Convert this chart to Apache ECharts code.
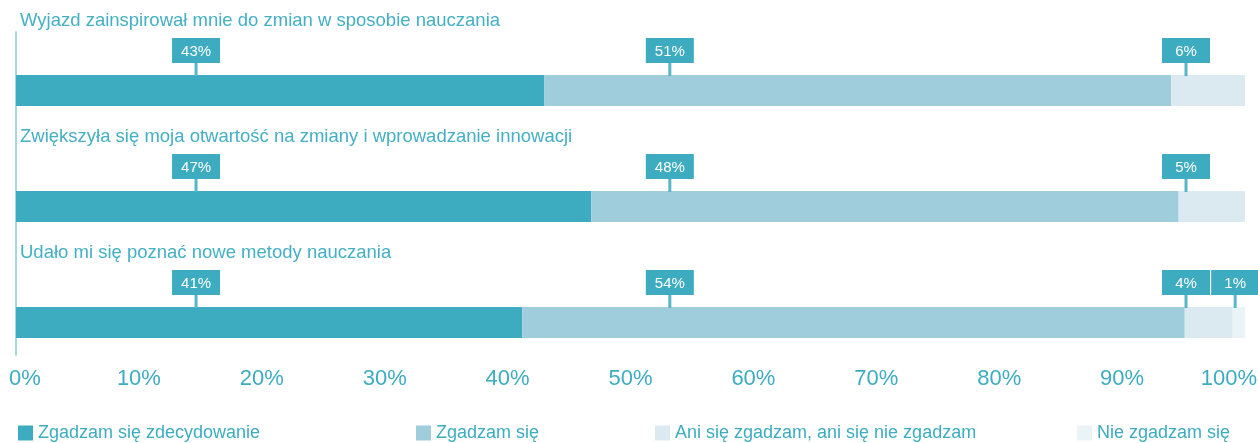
<!DOCTYPE html>
<html>
<head>
<meta charset="utf-8">
<script src="https://cdn.jsdelivr.net/npm/echarts@6/dist/echarts.min.js"></script>
<style>
    html, body { margin: 0; padding: 0; background: #fff; }
    #chart { width: 1258px; height: 443px; }
</style>
</head>
<body>
<div id="chart"></div>
<script>
/*
|--------------------------------------------------------------------------
| Data
|--------------------------------------------------------------------------
*/

const statements = [
    'Wyjazd zainspirował mnie do zmian w sposobie nauczania',
    'Zwiększyła się moja otwartość na zmiany i wprowadzanie innowacji',
    'Udało mi się poznać nowe metody nauczania',
];

const answers = [
    'Zgadzam się zdecydowanie',
    'Zgadzam się',
    'Ani się zgadzam, ani się nie zgadzam',
    'Nie zgadzam się',
];

// Shares per statement (%)
const stronglyAgree = [43, 46.8, 41.2];
const agree = [51, 47.8, 53.9];
const neutral = [6, 5.4, 3.9];
const disagree = [0, 0, 1.0];

/*
|--------------------------------------------------------------------------
| Look
|--------------------------------------------------------------------------
*/

const teal = '#3dacc1';
const colors = ['#3dacc1', '#a0cddc', '#dbeaf0', '#eaf4f7'];
const barHeight = 31;
const boxWidth = 48;
const boxHeight = 25;
const tickFont = '"Liberation Sans", Arial, sans-serif';

// Where each answer's callout sits along the axis (%)
const calloutAt = [14.65, 53.2, 95.2, 99.2];

// Legend item left edges
const legendLeft = [18, 416, 655, 1077];

/*
|--------------------------------------------------------------------------
| Helpers
|--------------------------------------------------------------------------
*/

const shares = [stronglyAgree, agree, neutral, disagree];

function segmentData(answerIndex) {
    return statements.map((_, row) => {
        let start = 0;
        for (let k = 0; k < answerIndex; k++) start += shares[k][row];
        return [start, start + shares[answerIndex][row], row];
    });
}

function renderSegment(params, api) {
    const from = api.coord([api.value(0), api.value(2)]);
    const to = api.coord([api.value(1), api.value(2)]);
    if (to[0] - from[0] <= 0) return null;
    return {
        type: 'rect',
        shape: { x: from[0], y: from[1] - barHeight / 2, width: to[0] - from[0], height: barHeight },
        style: { fill: api.visual('color') },
    };
}

function renderCallout(params, api) {
    const p = api.coord([api.value(0), api.value(1)]);
    const barTop = p[1] - barHeight / 2;
    const boxTop = barTop - 37;
    return {
        type: 'group',
        children: [
            {
                type: 'rect',
                shape: { x: p[0] - 1.5, y: boxTop + boxHeight - 1, width: 3, height: barTop - boxTop - boxHeight + 2 },
                style: { fill: '#57b6c9' },
            },
            {
                type: 'rect',
                shape: { x: p[0] - boxWidth / 2, y: boxTop, width: boxWidth, height: boxHeight },
                style: { fill: teal },
            },
            {
                type: 'text',
                x: p[0],
                y: boxTop + boxHeight / 2 + 1,
                style: {
                    text: Math.round(api.value(2)) + '%',
                    fill: '#fff',
                    font: '15px "Liberation Sans", Arial, sans-serif',
                    align: 'center',
                    verticalAlign: 'middle',
                },
            },
        ],
    };
}

function renderTitle(params, api) {
    const p = api.coord([0, api.value(0)]);
    return {
        type: 'text',
        x: p[0] + 4,
        y: p[1] - barHeight / 2 - 54,
        style: {
            text: statements[api.value(0)],
            fill: '#45afc4',
            font: '18.5px "Liberation Sans", Arial, sans-serif',
            align: 'left',
            verticalAlign: 'middle',
        },
    };
}

// End labels are nudged inwards so they stay on the canvas
function tickLabel(value) {
    if (value === 0) return '{first|0%}';
    if (value === 100) return '{last|100%}';
    return value + '%';
}

/*
|--------------------------------------------------------------------------
| Chart
|--------------------------------------------------------------------------
*/

function initializeChart() {
    const chart = echarts.init(document.getElementById('chart'), null, { renderer: 'canvas' });

    const calloutData = [];
    statements.forEach((_, row) => {
        shares.forEach((list, k) => {
            if (list[row] > 0) calloutData.push([calloutAt[k], row, list[row]]);
        });
    });

    const series = [
        ...answers.map((name, k) => ({
            type: 'custom',
            name,
            color: colors[k],
            itemStyle: { color: colors[k] },
            renderItem: renderSegment,
            encode: { x: [0, 1], y: 2 },
            data: segmentData(k),
            z: 2,
        })),
        {
            type: 'custom',
            name: 'callouts',
            renderItem: renderCallout,
            encode: { x: 0, y: 1 },
            data: calloutData,
            z: 3,
        },
        {
            type: 'custom',
            name: 'titles',
            renderItem: renderTitle,
            encode: { y: 0 },
            data: statements.map((_, row) => [row]),
            z: 3,
        },
    ];

    const tickText = { color: teal, fontFamily: tickFont, fontSize: 22 };

    chart.setOption({
        animation: false,
        color: colors,
        grid: { left: 16, right: 13, top: 32, bottom: 88, outerBoundsMode: 'none' },
        xAxis: {
            type: 'value',
            min: 0,
            max: 100,
            interval: 10,
            axisLine: { show: false },
            axisTick: { show: false },
            splitLine: { show: false },
            axisLabel: {
                ...tickText,
                formatter: tickLabel,
                verticalAlign: 'middle',
                margin: 24,
                alignMinLabel: 'center',
                alignMaxLabel: 'center',
                hideOverlap: false,
                rich: {
                    first: { ...tickText, padding: [0, 0, 0, 18] },
                    last: { ...tickText, padding: [0, 32, 0, 0] },
                },
            },
        },
        yAxis: {
            type: 'value',
            inverse: true,
            min: -0.505,
            max: 2.28,
            axisLine: { show: true, lineStyle: { color: '#a7d8e2', width: 2 } },
            axisTick: { show: false },
            axisLabel: { show: false },
            splitLine: { show: false },
        },
        legend: answers.map((name, k) => ({
            data: [name],
            left: legendLeft[k],
            top: 424,
            padding: 0,
            icon: 'rect',
            itemWidth: 15,
            itemHeight: 15,
            itemGap: 6,
            selectedMode: false,
            textStyle: {
                color: teal,
                fontFamily: '"Liberation Sans", Arial, sans-serif',
                fontSize: 18,
            },
        })),
        series,
    });
}

init();

function init() {
    initializeChart();
}
</script>
</body>
</html>
